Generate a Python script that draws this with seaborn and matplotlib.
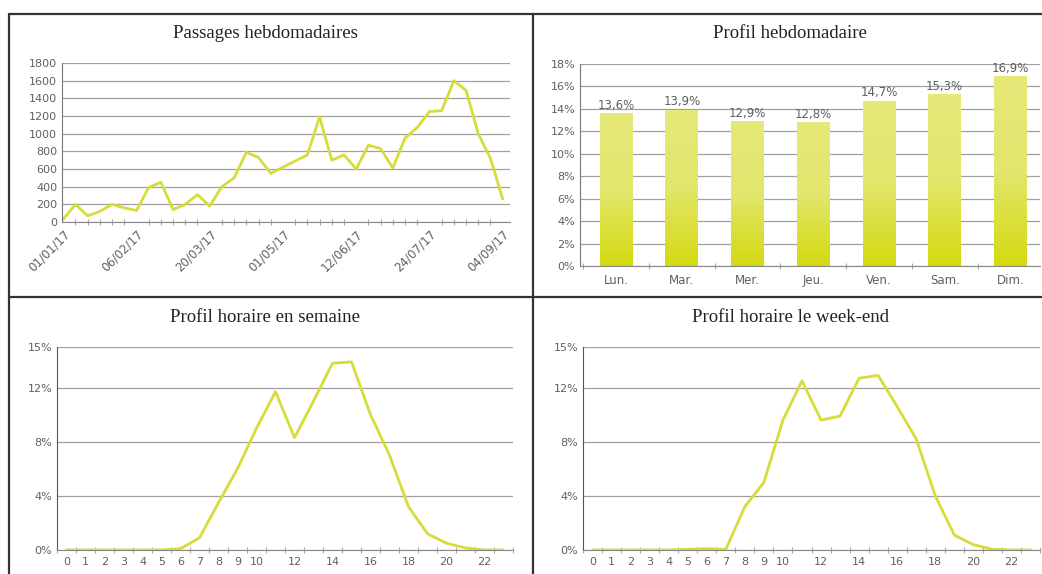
"""
Tableau de bord : passages hebdomadaires et profils
"""

import numpy as np
import pandas as pd
import matplotlib
matplotlib.use('Agg')
import matplotlib.pyplot as plt
from matplotlib.lines import Line2D
from matplotlib.colors import LinearSegmentedColormap
import seaborn as sns

sns.set_style('white')
plt.rcParams['font.family'] = ['DejaVu Sans']

# --- data ---
week_labels = ['01/01/17', '06/02/17', '20/03/17', '01/05/17', '12/06/17', '24/07/17', '04/09/17']
weekly_passages = [30, 200, 70, 120, 200, 160, 130, 390, 450, 140, 200, 310, 180, 400, 500,
                   790, 730, 550, 620, 690, 760, 1190, 700, 760, 600, 870, 830, 610, 950,
                   1070, 1250, 1260, 1600, 1490, 1000, 720, 260]

days = ['Lun.', 'Mar.', 'Mer.', 'Jeu.', 'Ven.', 'Sam.', 'Dim.']
day_share = [13.6, 13.9, 12.9, 12.8, 14.7, 15.3, 16.9]

hours = list(range(24))
hour_weekday = [0, 0, 0, 0, 0, 0, 0.1, 0.9, 3.5, 6.0, 9.0, 11.7, 8.3, 11.0, 13.8, 13.9,
                10.0, 7.0, 3.2, 1.2, 0.5, 0.15, 0, 0]
hour_weekend = [0, 0, 0, 0, 0, 0.05, 0.1, 0.05, 3.2, 5.0, 9.6, 12.5, 9.6, 9.9, 12.7, 12.9,
                10.6, 8.2, 4.0, 1.1, 0.4, 0.05, 0, 0]

LINE = '#d6dc3a'
GRID = '#a0a0a0'
TXT = '#606060'
TITLE_FONT = dict(family='Liberation Serif', fontsize=13.5, color='#222222')

W, H = 1042, 574


def add_ax(fig, left, top, right, bottom):
    return fig.add_axes([left / W, 1 - bottom / H, (right - left) / W, (bottom - top) / H])


def style_ax(ax):
    sns.despine(ax=ax, top=True, right=True)
    ax.spines['left'].set_color('#777777')
    ax.spines['bottom'].set_color('#888888')
    ax.yaxis.grid(True, color=GRID, lw=0.9)
    ax.set_axisbelow(True)
    ax.tick_params(axis='both', labelsize=8, colors=TXT, length=0)
    ax.set_xlabel('')
    ax.set_ylabel('')


def minor_ticks(ax, length=5):
    ax.tick_params(axis='x', which='minor', bottom=True, length=length, width=0.8,
                   direction='inout', color='#aaaaaa')


def pct(v):
    return f'{v:.0f}%'


fig = plt.figure(figsize=(W / 100, H / 100), dpi=100)

# panel borders
for (x0, y0, x1, y1) in [(9, 14, 1045, 14), (9, 14, 9, 580), (533, 14, 533, 580), (9, 297, 1045, 297)]:
    fig.add_artist(Line2D([x0 / W, x1 / W], [1 - y0 / H, 1 - y1 / H], color='#333333', lw=1.6))

# titles
fig.text(265 / W, 1 - 33 / H, 'Passages hebdomadaires', ha='center', va='center', **TITLE_FONT)
fig.text(790 / W, 1 - 33 / H, 'Profil hebdomadaire', ha='center', va='center', **TITLE_FONT)
fig.text(265 / W, 1 - 318 / H, 'Profil horaire en semaine', ha='center', va='center', **TITLE_FONT)
fig.text(790 / W, 1 - 318 / H, 'Profil horaire le week-end', ha='center', va='center', **TITLE_FONT)

# --- Passages hebdomadaires ---
ax1 = add_ax(fig, 62, 63, 510, 222)
idx = np.arange(len(weekly_passages))
sns.lineplot(x=idx, y=weekly_passages, ax=ax1, color=LINE, lw=2)
style_ax(ax1)
ax1.set_ylim(0, 1800)
ax1.set_yticks(range(0, 1801, 200))
ax1.set_xlim(-0.1, len(weekly_passages) - 0.4)
ax1.set_xticks(idx[::6])
ax1.set_xticklabels(week_labels, rotation=45, ha='right', rotation_mode='anchor', fontsize=8.5)
ax1.set_xticks(idx, minor=True)
minor_ticks(ax1)
ax1.tick_params(axis='x', which='major', pad=4)

# --- Profil hebdomadaire ---
ax2 = add_ax(fig, 580, 64, 1040, 266)
df_days = pd.DataFrame({'jour': days, 'part': day_share})
sns.barplot(data=df_days, x='jour', y='part', ax=ax2, color='#dfe34f', width=0.5, saturation=1)
style_ax(ax2)
ax2.set_ylim(0, 18)
ax2.set_yticks(range(0, 19, 2))
ax2.set_yticklabels([pct(v) for v in range(0, 19, 2)])
ax2.set_xlim(-0.55, 6.45)
ax2.set_xticks(np.arange(-0.5, 7, 1), minor=True)
minor_ticks(ax2, 4)
ax2.tick_params(axis='x', which='major', labelsize=8.5, pad=6)

grad = LinearSegmentedColormap.from_list('bar', ['#d4da10', '#e2e66c', '#e6e878'])
for patch in ax2.patches:
    x, y = patch.get_x(), patch.get_y()
    w, h = patch.get_width(), patch.get_height()
    img = ax2.imshow(np.linspace(0, 1, 100).reshape(-1, 1), cmap=grad, origin='lower',
                     extent=[x, x + w, y, y + h], aspect='auto', zorder=patch.get_zorder())
    img.set_clip_path(patch)
    patch.set_alpha(0)
ax2.set_xlim(-0.55, 6.45)
ax2.set_ylim(0, 18)
for i, v in enumerate(day_share):
    ax2.text(i, v + 0.15, f'{v:.1f}%'.replace('.', ','), ha='center', va='bottom',
             fontsize=8.5, color=TXT)


# --- Profils horaires ---
def hourly(ax, values):
    sns.lineplot(x=hours, y=values, ax=ax, color=LINE, lw=2)
    style_ax(ax)
    ax.spines['left'].set_color('#555555')
    ax.set_ylim(0, 15)
    ax.set_yticks([0, 4, 8, 12, 15])
    ax.set_yticklabels(['0%', '4%', '8%', '12%', '15%'])
    ax.set_xlim(-0.5, 23.5)
    ax.set_xticks(hours)
    ax.set_xticklabels([str(h) if (h <= 10 or h % 2 == 0) else '' for h in hours])
    ax.set_xticks(np.arange(-0.5, 24, 1), minor=True)
    minor_ticks(ax)
    ax.tick_params(axis='x', which='major', pad=5)


ax3 = add_ax(fig, 57, 347, 513, 550)
hourly(ax3, hour_weekday)
ax4 = add_ax(fig, 583, 347, 1040, 550)
hourly(ax4, hour_weekend)

fig.savefig('out.png', dpi=100)
